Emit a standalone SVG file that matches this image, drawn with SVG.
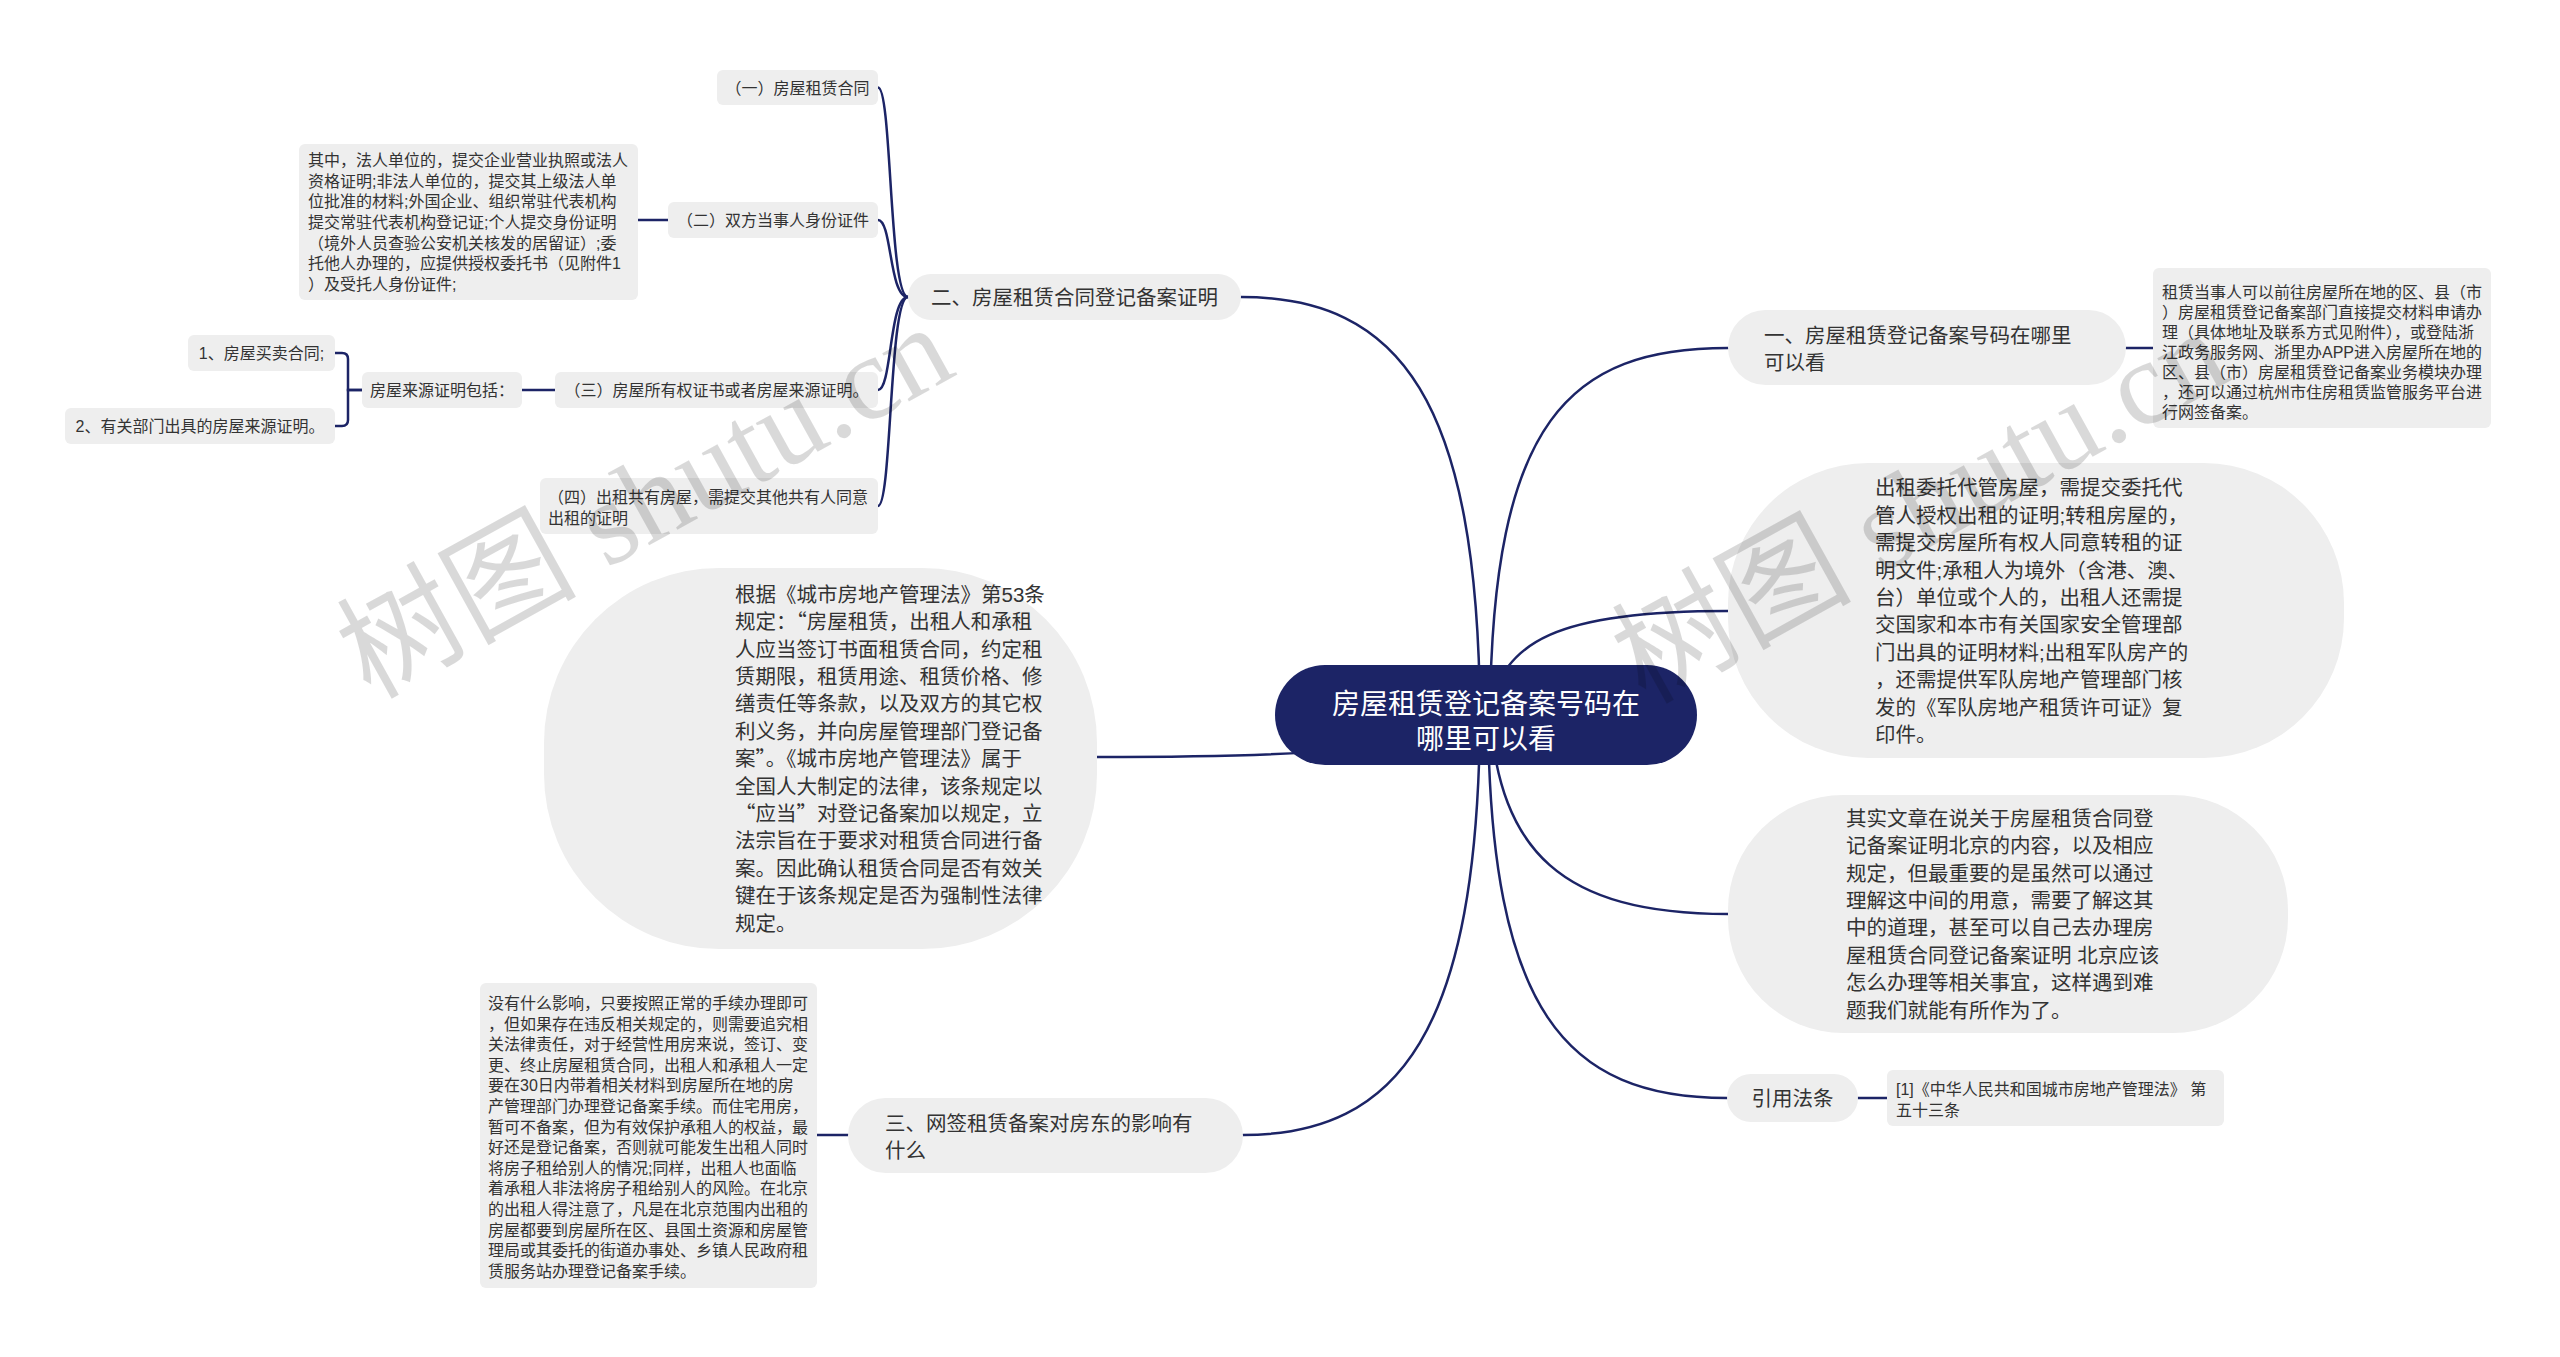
<svg xmlns="http://www.w3.org/2000/svg" width="2560" height="1357" viewBox="0 0 2560 1357">
<style>
.bg{fill:#ffffff}
.n{fill:#eeeeee}
.c{fill:none;stroke:#1c2466;stroke-width:2.5;stroke-linecap:round}
.t16{font-family:"Liberation Sans","Noto Sans CJK SC",sans-serif;font-size:16px;fill:#333333}
.t20{font-family:"Liberation Sans","Noto Sans CJK SC",sans-serif;font-size:20.5px;fill:#333333}
.q{font-family:"Noto Sans CJK SC",sans-serif;font-feature-settings:"fwid" 1}
.mid{text-anchor:middle}
.root{fill:#1c2466}
.rt{font-family:"Liberation Sans","Noto Sans CJK SC",sans-serif;font-size:28px;fill:#ffffff;text-anchor:middle}
.wm{font-family:"Liberation Serif","Noto Sans CJK SC",serif;font-size:120px;fill:#000000;fill-opacity:0.15}
</style>
<rect class="bg" x="0" y="0" width="2560" height="1357"/>
<g id="connectors">
<path class="c" d="M 1480 715 C 1478 400 1400 297 1241 297"/>
<path class="c" d="M 1480 715 C 1420 752 1300 757 1097 757"/>
<path class="c" d="M 1480 715 C 1478 1030 1400 1135 1243 1135"/>
<path class="c" d="M 1490 715 C 1492 420 1570 348 1728 348"/>
<path class="c" d="M 1490 715 C 1500 640 1560 611 1728 611"/>
<path class="c" d="M 1490 715 C 1500 850 1560 914 1728 914"/>
<path class="c" d="M 1488 715 C 1490 1010 1565 1098 1727 1098"/>
<path class="c" d="M 2126 348 L 2153 348"/>
<path class="c" d="M 1858 1098 L 1887 1098"/>
<path class="c" d="M 908 297 C 889 297 892 87.5 878 87.5"/>
<path class="c" d="M 908 297 C 889 297 892 220 878 220"/>
<path class="c" d="M 908 297 C 889 297 892 390 878 390"/>
<path class="c" d="M 908 297 C 889 297 892 506 878 506"/>
<path class="c" d="M 668 220 L 638 220"/>
<path class="c" d="M 555 390 L 522 390"/>
<path class="c" d="M 362 390 L 348 390 L 348 359 Q 348 353 342 353 L 335 353"/>
<path class="c" d="M 362 390 L 348 390 L 348 420 Q 348 426 342 426 L 335 426"/>
<path class="c" d="M 848 1135 L 817 1135"/>
</g>
<g id="root">
<rect class="root" x="1275" y="665" width="422" height="100" rx="50"/>
<text class="rt"><tspan x="1486" y="713.5">房屋租赁登记备案号码在</tspan><tspan x="1486" y="748.5">哪里可以看</tspan></text>
</g>
<g id="n-yi">
<rect class="n" x="1728" y="310" width="398" height="75" rx="37.5"/>
<text class="t20"><tspan x="1764" y="343">一、房屋租赁登记备案号码在哪里</tspan><tspan x="1764" y="370">可以看</tspan></text>
</g>
<g id="n-yi-detail">
<rect class="n" x="2153" y="268" width="338" height="160" rx="6"/>
<text class="t16"><tspan x="2162" y="298">租赁当事人可以前往房屋所在地的区、县（市</tspan><tspan x="2162" y="318">）房屋租赁登记备案部门直接提交材料申请办</tspan><tspan x="2162" y="338">理（具体地址及联系方式见附件），或登陆浙</tspan><tspan x="2162" y="358">江政务服务网、浙里办APP进入房屋所在地的</tspan><tspan x="2162" y="378">区、县（市）房屋租赁登记备案业务模块办理</tspan><tspan x="2162" y="398">，还可以通过杭州市住房租赁监管服务平台进</tspan><tspan x="2162" y="418">行网签备案。</tspan></text>
</g>
<g id="n-chuzu">
<rect class="n" x="1728" y="463" width="616" height="295" rx="140"/>
<text class="t20"><tspan x="1875" y="495.3">出租委托代管房屋，需提交委托代</tspan><tspan x="1875" y="522.7">管人授权出租的证明;转租房屋的，</tspan><tspan x="1875" y="550.1">需提交房屋所有权人同意转租的证</tspan><tspan x="1875" y="577.5">明文件;承租人为境外（含港、澳、</tspan><tspan x="1875" y="604.9">台）单位或个人的，出租人还需提</tspan><tspan x="1875" y="632.3">交国家和本市有关国家安全管理部</tspan><tspan x="1875" y="659.7">门出具的证明材料;出租军队房产的</tspan><tspan x="1875" y="687.1">，还需提供军队房地产管理部门核</tspan><tspan x="1875" y="714.5">发的《军队房地产租赁许可证》复</tspan><tspan x="1875" y="741.9">印件。</tspan></text>
</g>
<g id="n-qishi">
<rect class="n" x="1728" y="795" width="560" height="238" rx="115"/>
<text class="t20"><tspan x="1846" y="825.8">其实文章在说关于房屋租赁合同登</tspan><tspan x="1846" y="853.2">记备案证明北京的内容，以及相应</tspan><tspan x="1846" y="880.6">规定，但最重要的是虽然可以通过</tspan><tspan x="1846" y="908">理解这中间的用意，需要了解这其</tspan><tspan x="1846" y="935.4">中的道理，甚至可以自己去办理房</tspan><tspan x="1846" y="962.8">屋租赁合同登记备案证明 北京应该</tspan><tspan x="1846" y="990.2">怎么办理等相关事宜，这样遇到难</tspan><tspan x="1846" y="1017.6">题我们就能有所作为了。</tspan></text>
</g>
<g id="n-yinyong">
<rect class="n" x="1727" y="1074" width="131" height="48" rx="24"/>
<text class="t20 mid" x="1792.5" y="1105.8">引用法条</text>
</g>
<g id="n-yinyong-detail">
<rect class="n" x="1887" y="1070" width="337" height="56" rx="6"/>
<text class="t16"><tspan x="1896" y="1095">[1]《中华人民共和国城市房地产管理法》 第</tspan><tspan x="1896" y="1116">五十三条</tspan></text>
</g>
<g id="n-er">
<rect class="n" x="908" y="274" width="333" height="46" rx="23"/>
<text class="t20" x="931" y="304.8">二、房屋租赁合同登记备案证明</text>
</g>
<g id="n-er-1">
<rect class="n" x="717" y="70" width="161" height="35" rx="6"/>
<text class="t16 mid" x="797.5" y="93.5">（一）房屋租赁合同</text>
</g>
<g id="n-er-2">
<rect class="n" x="668" y="202" width="210" height="36" rx="6"/>
<text class="t16 mid" x="773" y="226">（二）双方当事人身份证件</text>
</g>
<g id="n-er-2-detail">
<rect class="n" x="299" y="144" width="339" height="156" rx="6"/>
<text class="t16"><tspan x="308" y="166.2">其中，法人单位的，提交企业营业执照或法人</tspan><tspan x="308" y="186.8">资格证明;非法人单位的，提交其上级法人单</tspan><tspan x="308" y="207.4">位批准的材料;外国企业、组织常驻代表机构</tspan><tspan x="308" y="228">提交常驻代表机构登记证;个人提交身份证明</tspan><tspan x="308" y="248.6">（境外人员查验公安机关核发的居留证）;委</tspan><tspan x="308" y="269.2">托他人办理的，应提供授权委托书（见附件1</tspan><tspan x="308" y="289.8">）及受托人身份证件;</tspan></text>
</g>
<g id="n-er-3">
<rect class="n" x="555" y="372" width="323" height="36" rx="6"/>
<text class="t16 mid" x="716.5" y="396">（三）房屋所有权证书或者房屋来源证明。</text>
</g>
<g id="n-er-3-src">
<rect class="n" x="362" y="372" width="160" height="36" rx="6"/>
<text class="t16 mid" x="442" y="396">房屋来源证明包括：</text>
</g>
<g id="n-er-3-src-1">
<rect class="n" x="188" y="335" width="147" height="36" rx="6"/>
<text class="t16 mid" x="261.5" y="359">1、房屋买卖合同;</text>
</g>
<g id="n-er-3-src-2">
<rect class="n" x="65" y="408" width="270" height="36" rx="6"/>
<text class="t16 mid" x="200" y="432">2、有关部门出具的房屋来源证明。</text>
</g>
<g id="n-er-4">
<rect class="n" x="540" y="478" width="338" height="56" rx="6"/>
<text class="t16"><tspan x="548" y="503">（四）出租共有房屋，需提交其他共有人同意</tspan><tspan x="548" y="524">出租的证明</tspan></text>
</g>
<g id="n-genju">
<rect class="n" x="544" y="568" width="553" height="381" rx="175"/>
<text class="t20"><tspan x="735" y="601.8">根据《城市房地产管理法》第53条</tspan><tspan x="735" y="629.2">规定：<tspan class="q">“</tspan>房屋租赁，出租人和承租</tspan><tspan x="735" y="656.6">人应当签订书面租赁合同，约定租</tspan><tspan x="735" y="684">赁期限，租赁用途、租赁价格、修</tspan><tspan x="735" y="711.4">缮责任等条款，以及双方的其它权</tspan><tspan x="735" y="738.8">利义务，并向房屋管理部门登记备</tspan><tspan x="735" y="766.2">案<tspan class="q">”</tspan>。《城市房地产管理法》属于</tspan><tspan x="735" y="793.6">全国人大制定的法律，该条规定以</tspan><tspan x="735" y="821"><tspan class="q">“</tspan>应当<tspan class="q">”</tspan>对登记备案加以规定，立</tspan><tspan x="735" y="848.4">法宗旨在于要求对租赁合同进行备</tspan><tspan x="735" y="875.8">案。因此确认租赁合同是否有效关</tspan><tspan x="735" y="903.2">键在于该条规定是否为强制性法律</tspan><tspan x="735" y="930.6">规定。</tspan></text>
</g>
<g id="n-san">
<rect class="n" x="848" y="1098" width="395" height="75" rx="37.5"/>
<text class="t20"><tspan x="885" y="1130.8">三、网签租赁备案对房东的影响有</tspan><tspan x="885" y="1157.8">什么</tspan></text>
</g>
<g id="n-san-detail">
<rect class="n" x="480" y="983" width="337" height="305" rx="6"/>
<text class="t16"><tspan x="488" y="1009">没有什么影响，只要按照正常的手续办理即可</tspan><tspan x="488" y="1029.6">，但如果存在违反相关规定的，则需要追究相</tspan><tspan x="488" y="1050.2">关法律责任，对于经营性用房来说，签订、变</tspan><tspan x="488" y="1070.8">更、终止房屋租赁合同，出租人和承租人一定</tspan><tspan x="488" y="1091.4">要在30日内带着相关材料到房屋所在地的房</tspan><tspan x="488" y="1112">产管理部门办理登记备案手续。而住宅用房，</tspan><tspan x="488" y="1132.6">暂可不备案，但为有效保护承租人的权益，最</tspan><tspan x="488" y="1153.2">好还是登记备案，否则就可能发生出租人同时</tspan><tspan x="488" y="1173.8">将房子租给别人的情况;同样，出租人也面临</tspan><tspan x="488" y="1194.4">着承租人非法将房子租给别人的风险。在北京</tspan><tspan x="488" y="1215">的出租人得注意了，凡是在北京范围内出租的</tspan><tspan x="488" y="1235.6">房屋都要到房屋所在区、县国土资源和房屋管</tspan><tspan x="488" y="1256.2">理局或其委托的街道办事处、乡镇人民政府租</tspan><tspan x="488" y="1276.8">赁服务站办理登记备案手续。</tspan></text>
</g>
<g id="watermark">
<text class="wm" x="370" y="700" transform="rotate(-29 370 700)">树图 shutu.cn</text>
<text class="wm" x="1645" y="705" transform="rotate(-29 1645 705)">树图 shutu.cn</text>
</g>
</svg>
